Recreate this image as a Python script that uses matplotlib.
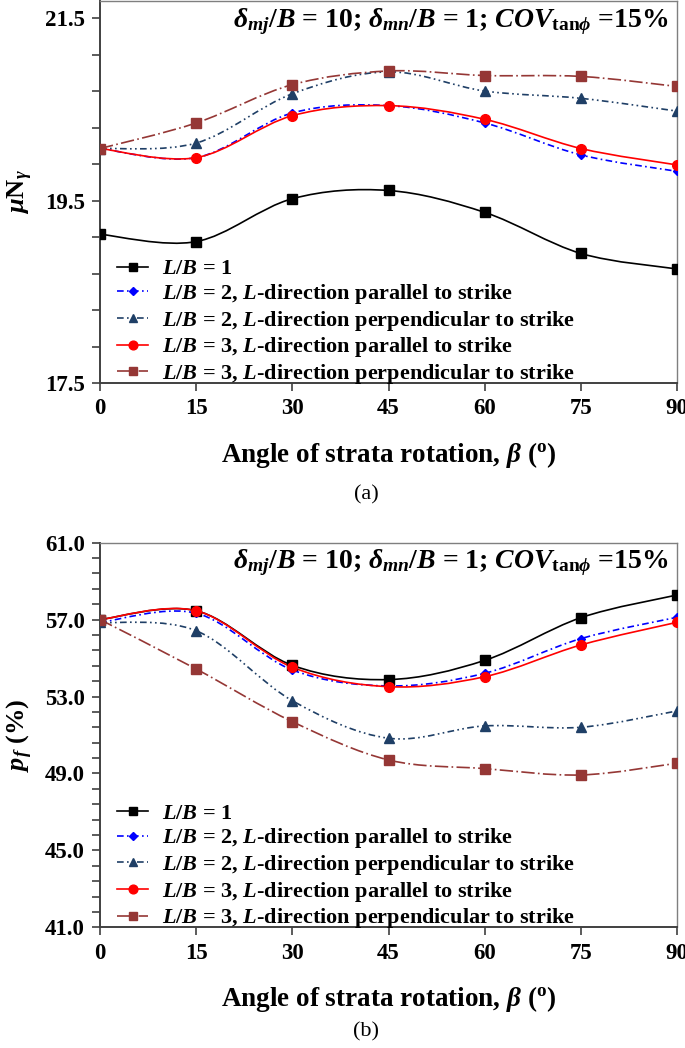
import numpy as np
import matplotlib
matplotlib.use('Agg')
import matplotlib.pyplot as plt
from matplotlib.path import Path
from matplotlib.patches import PathPatch
from matplotlib.lines import Line2D
from matplotlib.ticker import FixedLocator, FormatStrFormatter

plt.rcParams['font.family'] = ['Liberation Serif', 'DejaVu Serif']
plt.rcParams['font.weight'] = 'bold'
plt.rcParams['mathtext.fontset'] = 'custom'
plt.rcParams['mathtext.rm'] = 'Liberation Serif:bold'
plt.rcParams['mathtext.bf'] = 'Liberation Serif:bold'
plt.rcParams['mathtext.it'] = 'Liberation Serif:italic:bold'

# data
beta = [0, 15, 30, 45, 60, 75, 90]

# (a) mu*N_gamma
nq_lb1 = [19.13, 19.05, 19.52, 19.61, 19.37, 18.92, 18.75]
nq_lb2_par = [20.07, 19.97, 20.46, 20.54, 20.35, 20.00, 19.82]
nq_lb2_perp = [20.07, 20.13, 20.67, 20.91, 20.70, 20.62, 20.48]
nq_lb3_par = [20.07, 19.97, 20.43, 20.54, 20.39, 20.07, 19.89]
nq_lb3_perp = [20.07, 20.35, 20.77, 20.92, 20.87, 20.86, 20.75]

# (b) probability of failure p_f (%)
pf_lb1 = [57.0, 57.46, 54.62, 53.88, 54.88, 57.10, 58.28]
pf_lb2_par = [56.85, 57.33, 54.38, 53.55, 54.21, 56.01, 57.12]
pf_lb2_perp = [56.85, 56.42, 52.78, 50.83, 51.47, 51.40, 52.25]
pf_lb3_par = [57.0, 57.46, 54.52, 53.51, 54.03, 55.68, 56.86]
pf_lb3_perp = [57.0, 54.43, 51.69, 49.70, 49.25, 48.92, 49.53]

labels = [r'$L/B$ = 1',
          r'$L/B$ = 2, $L$-direction parallel to strike',
          r'$L/B$ = 2, $L$-direction perpendicular to strike',
          r'$L/B$ = 3, $L$-direction parallel to strike',
          r'$L/B$ = 3, $L$-direction perpendicular to strike']

styles = [dict(color='black', ls='-', marker='s', ms=6.5),
          dict(color='#0000FF', ls=(0, (4, 2, 1, 2)), marker='D', ms=4.5),
          dict(color='#1F3F66', ls=(0, (4, 2, 1, 2, 1, 2)), marker='^', ms=6.5),
          dict(color='#FF0000', ls='-', marker='o', ms=7),
          dict(color='#953735', ls=(0, (8, 2, 1, 2)), marker='s', ms=6.5)]


def smooth_curve(ax, x, y, color, ls):
    # Catmull-Rom style bezier through the points (like Excel smoothed lines)
    pts = np.column_stack([x, y]).astype(float)
    n = len(pts)
    verts = [pts[0]]
    codes = [Path.MOVETO]
    for i in range(n - 1):
        p0 = pts[i - 1] if i > 0 else pts[i]
        p1 = pts[i]
        p2 = pts[i + 1]
        p3 = pts[i + 2] if i + 2 < n else pts[i + 1]
        c1 = p1 + (p2 - p0) / 6.0
        c2 = p2 - (p3 - p1) / 6.0
        verts += [c1, c2, p2]
        codes += [Path.CURVE4] * 3
    patch = PathPatch(Path(verts, codes), fill=False, edgecolor=color,
                      linestyle=ls, linewidth=1.2, zorder=2)
    ax.add_patch(patch)


def draw_panel(ax, series, ylim, major, minor, ylabel, ann_y):
    handles = []
    for ys, st in zip(series, styles):
        smooth_curve(ax, beta, ys, st['color'], st['ls'])
        ax.plot(beta, ys, ls='none', marker=st['marker'], ms=st['ms'],
                color=st['color'], mec=st['color'], zorder=3)
        handles.append(Line2D([], [], color=st['color'], ls=st['ls'], lw=1.2,
                              marker=st['marker'], ms=st['ms'] * 0.9,
                              mec=st['color']))
    ax.set_xlim(0, 90)
    ax.set_ylim(*ylim)
    ax.set_xticks(beta)
    ax.yaxis.set_major_locator(FixedLocator(np.arange(ylim[0], ylim[1] + 1e-6, major)))
    ax.yaxis.set_minor_locator(FixedLocator(np.arange(ylim[0], ylim[1] + 1e-6, minor)))
    ax.yaxis.set_major_formatter(FormatStrFormatter('%.1f'))
    ax.tick_params(axis='both', which='both', direction='out', length=6,
                   width=1.2, color='#404040', labelsize=16.5, pad=5)
    ax.tick_params(axis='x', which='minor', bottom=False)
    for lab in ax.get_xticklabels() + ax.get_yticklabels():
        lab.set_fontweight('bold')
    for s in ['left', 'bottom']:
        ax.spines[s].set_color('#404040')
        ax.spines[s].set_linewidth(1.4)
    for s in ['top', 'right']:
        ax.spines[s].set_color('#7f7f7f')
        ax.spines[s].set_linewidth(1.0)
    ax.set_xlabel(r'Angle of strata rotation, $\beta$ ($^{\mathrm{o}}$)',
                  fontsize=19.5, fontweight='bold', labelpad=15)
    ax.set_ylabel(ylabel, fontsize=19, fontweight='bold')
    ax.yaxis.set_label_coords(-0.112, 0.5)
    ax.text(0.985, ann_y,
            r'$\delta_{mj}/B$ = 10; $\delta_{mn}/B$ = 1; $COV_{\mathrm{tan}\phi}$ =15%',
            transform=ax.transAxes, ha='right', va='center', fontsize=20,
            fontweight='bold')
    ax.legend(handles, labels, loc='lower left', bbox_to_anchor=(-0.005, -0.06),
              frameon=False, handlelength=1.4, handletextpad=0.6,
              labelspacing=0.12, prop={'weight': 'bold', 'size': 16})


fig = plt.figure(figsize=(6.85, 10.48), dpi=100)
ax1 = fig.add_axes([0.146, 0.6345, 0.8425, 0.3645])
ax2 = fig.add_axes([0.146, 0.1152, 0.8425, 0.367])

draw_panel(ax1, [nq_lb1, nq_lb2_par, nq_lb2_perp, nq_lb3_par, nq_lb3_perp],
           (17.5, 21.686), 2.0, 0.4, r'$\mu$N$_{\gamma}$', 0.945)
draw_panel(ax2, [pf_lb1, pf_lb2_par, pf_lb2_perp, pf_lb3_par, pf_lb3_perp],
           (41.0, 61.0), 4.0, 0.8, r'$p_f$ (%)', 0.948)

fig.text(0.535, 1 - 495 / 1048, '(a)', ha='center', va='center',
         fontsize=16, fontweight='normal')
fig.text(0.535, 1 - 1032 / 1048, '(b)', ha='center', va='center',
         fontsize=16, fontweight='normal')

fig.savefig('out.png', dpi=100)
